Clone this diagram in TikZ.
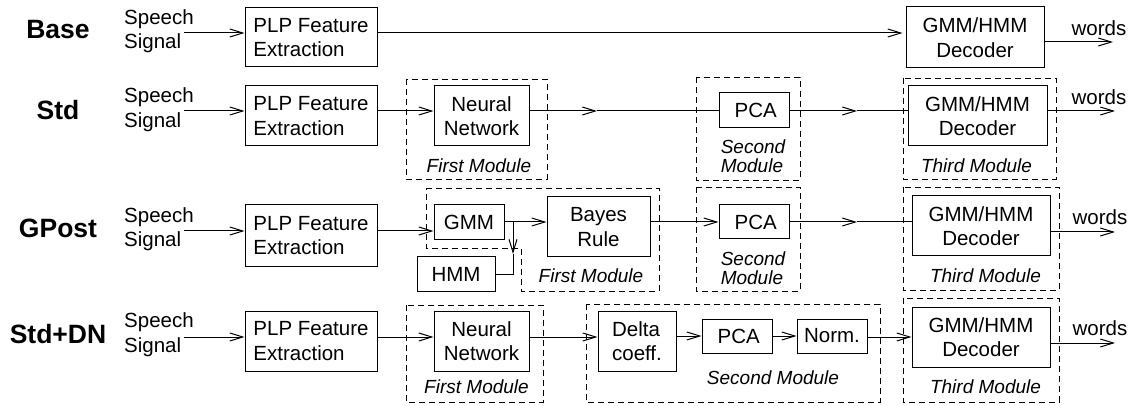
\documentclass[tikz,border=0pt]{standalone}
\usepackage{fontspec}
\setmainfont{Liberation Sans}
\usetikzlibrary{arrows.meta}
\newcommand\mynorm{\fontsize{20.5}{24.5}\selectfont}
\newcommand\myital{\fontsize{19}{18.5}\selectfont\itshape}
\newcommand\mybold{\fontsize{26.5}{30}\selectfont\bfseries}
\begin{document}
\begin{tikzpicture}[x=1pt,y=-1pt,
  box/.style={draw, line width=1pt, inner sep=0pt, font=\mynorm, align=center},
  lbox/.style={box, align=left},
  arr/.style={line width=1pt, -{Straight Barb[length=13pt,width=8pt,line width=1pt]}},
  ln/.style={line width=1pt},
  mod/.style={draw, line width=0.9pt, dash pattern=on 6pt off 4pt},
  modlbl/.style={font=\myital, inner sep=0pt, align=left},
  rowlbl/.style={font=\mybold, inner sep=0pt},
  sig/.style={font=\mynorm, inner sep=0pt, align=left, anchor=west},
  wtxt/.style={font=\mynorm, inner sep=0pt}]
\useasboundingbox (0,0) rectangle (1130,406);

% ---------------- Row labels
\node[rowlbl] (lbase) at (58,30) {Base};
\node[rowlbl] (lstd) at (58,110) {Std};
\node[rowlbl] (lgpost) at (58,228) {GPost};
\node[rowlbl] (lstddn) at (58,334) {Std+DN};

% ---------------- Speech signal texts
\node[sig] (ss1) at (124,31) {Speech\\Signal};
\node[sig] (ss2) at (124,109.5) {Speech\\Signal};
\node[sig] (ss3) at (124,229) {Speech\\Signal};
\node[sig] (ss4) at (124,334.5) {Speech\\Signal};

% ---------------- Module frames
\draw[mod] (406,79) rectangle (547,179);
\draw[mod] (696,77) rectangle (800,180);
\draw[mod] (903,78) rectangle (1056,179);
\draw[mod] (426,188) -- (659,188) -- (659,291) -- (521,291) -- (521,248) -- (426,248) -- cycle;
\draw[mod] (696,187) rectangle (800,291);
\draw[mod] (903,187) rectangle (1059,290);
\draw[mod] (406,305) rectangle (543,402);
\draw[mod] (586,304) rectangle (880,402);
\draw[mod] (903,298) rectangle (1059,402);

% ---------------- Row 1 (Base)
\node[lbox, minimum width=132pt, minimum height=59pt] (plp1) at (311,37.5) {PLP Feature\\Extraction};
\node[box, minimum width=138pt, minimum height=61pt] (dec1) at (975,37.5) {GMM/HMM\\Decoder};
\node[wtxt] (wt1) at (1099,28) {words};

% ---------------- Row 2 (Std)
\node[lbox, minimum width=132pt, minimum height=60pt] (plp2) at (311,116) {PLP Feature\\Extraction};
\node[box, minimum width=95pt, minimum height=60pt] (nn2) at (481.5,116) {Neural\\Network};
\node[box, minimum width=70pt, minimum height=35pt] (pca2) at (754,110.5) {\,PCA};
\node[box, minimum width=139pt, minimum height=60pt] (dec2) at (977.5,116) {GMM/HMM\\Decoder};
\node[wtxt] (wt2) at (1099,97) {words};
\node[modlbl] (fm2) at (479,166) {First Module};
\node[modlbl] (sm2) at (753,156) {Second\\Module};
\node[modlbl] (tm2) at (976.5,166) {Third Module};

% ---------------- Row 3 (GPost)
\node[lbox, minimum width=132pt, minimum height=61pt] (plp3) at (311,235.5) {PLP Feature\\Extraction};
\node[box, minimum width=70pt, minimum height=35pt] (gmm3) at (469,222.5) {GMM};
\node[box, minimum width=78pt, minimum height=34pt] (hmm3) at (456,274) {HMM};
\node[box, minimum width=103pt, minimum height=60pt] (bayes3) at (598.5,227) {Bayes\\Rule};
\node[box, minimum width=70pt, minimum height=34pt] (pca3) at (754,222) {\,PCA};
\node[box, minimum width=138pt, minimum height=60pt] (dec3) at (981,226) {GMM/HMM\\Decoder};
\node[wtxt] (wt3) at (1100,217) {words};
\node[modlbl] (fm3) at (591,276) {First Module};
\node[modlbl] (sm3) at (753,268) {Second\\Module};
\node[modlbl] (tm3) at (985.5,276) {Third Module};

% ---------------- Row 4 (Std+DN)
\node[lbox, minimum width=132pt, minimum height=60pt] (plp4) at (311,341) {PLP Feature\\Extraction};
\node[box, minimum width=95pt, minimum height=60pt] (nn4) at (481.5,341) {Neural\\Network};
\node[lbox, minimum width=78pt, minimum height=60pt] (delta4) at (637,341) {Delta\\coeff.};
\node[box, minimum width=70pt, minimum height=34pt] (pca4) at (737,336) {\,PCA};
\node[box, minimum width=70pt, minimum height=34pt] (norm4) at (832,336) {Norm.};
\node[box, minimum width=138pt, minimum height=60pt] (dec4) at (981,337) {GMM/HMM\\Decoder};
\node[wtxt] (wt4) at (1100,328) {words};
\node[modlbl] (fm4) at (476.5,387) {First Module};
\node[modlbl] (sm4) at (773,378) {Second Module};
\node[modlbl] (tm4) at (985.5,387) {Third Module};

% ---------------- Connectors row 1
\coordinate (s1) at (184,33);
\coordinate (w1) at (1113,42);
\draw[arr] (s1) -- (s1 -| plp1.west);
\draw[arr] ([xshift=0pt]plp1.east |- s1) -- ([xshift=-3pt]s1 -| dec1.west);
\draw[arr] (dec1.east |- w1) -- (w1);

% ---------------- Connectors row 2
\coordinate (s2) at (184,111);
\coordinate (m2a) at (597,111);
\coordinate (m2b) at (857,111);
\coordinate (w2) at (1115,111);
\draw[arr] (s2) -- (s2 -| plp2.west);
\draw[arr] (plp2.east |- s2) -- (s2 -| nn2.west);
\draw[arr] (nn2.east |- s2) -- (m2a);
\draw[ln] (m2a) -- (m2a -| pca2.west);
\draw[arr] (pca2.east |- s2) -- (m2b);
\draw[ln] (m2b) -- (m2b -| dec2.west);
\draw[arr] (dec2.east |- w2) -- (w2);

% ---------------- Connectors row 3
\coordinate (s3) at (184,231);
\coordinate (g3) at (513,222);
\coordinate (h3) at (513,254);
\coordinate (m3) at (857,222);
\coordinate (w3) at (1115,232);
\draw[arr] (s3) -- (s3 -| plp3.west);
\draw[arr] (plp3.east |- s3) -- (s3 -| gmm3.west);
\draw[arr] (gmm3.east |- g3) -- (g3 -| bayes3.west);
\draw[arr] (g3) -- (h3);
\draw[ln] (hmm3.east) -| (h3);
\draw[arr] (bayes3.east |- g3) -- (g3 -| pca3.west);
\draw[arr] (pca3.east |- g3) -- (m3);
\draw[ln] (m3) -- (m3 -| dec3.west);
\draw[arr] (dec3.east |- w3) -- (w3);

% ---------------- Connectors row 4
\coordinate (s4) at (184,337);
\coordinate (w4) at (1115,343);
\draw[arr] (s4) -- (s4 -| plp4.west);
\draw[arr] (plp4.east |- s4) -- (s4 -| nn4.west);
\draw[arr] (nn4.east |- s4) -- (s4 -| delta4.west);
\draw[arr] (delta4.east |- pca4) -- (pca4.west);
\draw[arr] (pca4.east) -- (norm4.west);
\draw[arr] (norm4.east |- s4) -- (s4 -| dec4.west);
\draw[arr] (dec4.east |- w4) -- (w4);
\end{tikzpicture}
\end{document}
